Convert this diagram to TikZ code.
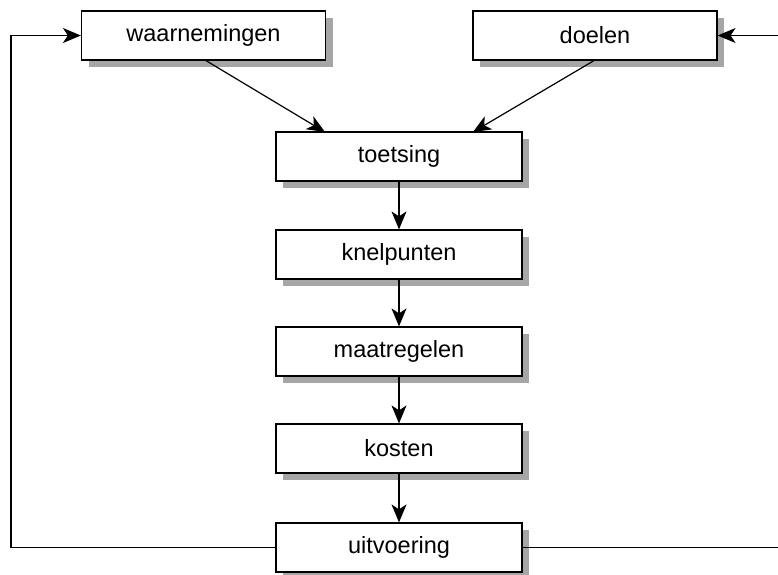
\documentclass[tikz,border=0pt]{standalone}
\usepackage{fontspec}
\setmainfont{Liberation Sans}
\usetikzlibrary{arrows.meta}
\begin{document}
\begin{tikzpicture}[x=1pt,y=-1pt,
  stepbox/.style={draw=black,fill=white,line width=1.2pt,minimum width=246pt,minimum height=49pt,inner sep=0pt,
    font=\fontsize{23.5}{28}\selectfont},
  conn/.style={line width=1.2pt,-{Stealth[length=18pt,width=15pt,inset=5pt]}},
  plain/.style={line width=1.2pt}]
\useasboundingbox (0,0) rectangle (778,574);
% shadows
\foreach \cx/\cy/\w in {203.5/35.5/244, 595/35.5/244, 399/156.5/246, 399/254.5/246, 399/351.5/246, 399/448.5/246, 399/547.5/246}{
  \fill[gray!70] (\cx-\w/2+7,\cy-24.5+7) rectangle (\cx+\w/2+7,\cy+24.5+7);
}
\node[stepbox,minimum width=244pt] (w) at (203.5,35.5) {waarnemingen};
\node[stepbox,minimum width=244pt] (d) at (595,35.5) {doelen};
\node[stepbox] (t) at (399,156.5) {toetsing};
\node[stepbox] (k) at (399,254.5) {knelpunten};
\node[stepbox] (m) at (399,351.5) {maatregelen};
\node[stepbox] (c) at (399,448.5) {kosten};
\node[stepbox] (u) at (399,547.5) {uitvoering};
\coordinate (wb) at (205,60);
\coordinate (tl) at (325,132);
\coordinate (db) at (595,60);
\coordinate (tr) at (473,132);
\draw[conn] (wb) -- (tl);
\draw[conn] (db) -- (tr);
\draw[conn] (t.south) -- (k.north);
\draw[conn] (k.south) -- (m.north);
\draw[conn] (m.south) -- (c.north);
\draw[conn] (c.south) -- (u.north);
\coordinate (lb) at (11,547.5);
\coordinate (lt) at (11,35.5);
\coordinate (rb) at (778,547.5);
\coordinate (rt) at (778,35.5);
\draw[conn] (u.west) -- (lb) -- (lt) -- (w.west);
\draw[plain] (u.east) -- (rb);
\draw[conn] (rt) -- (d.east);
\end{tikzpicture}
\end{document}
